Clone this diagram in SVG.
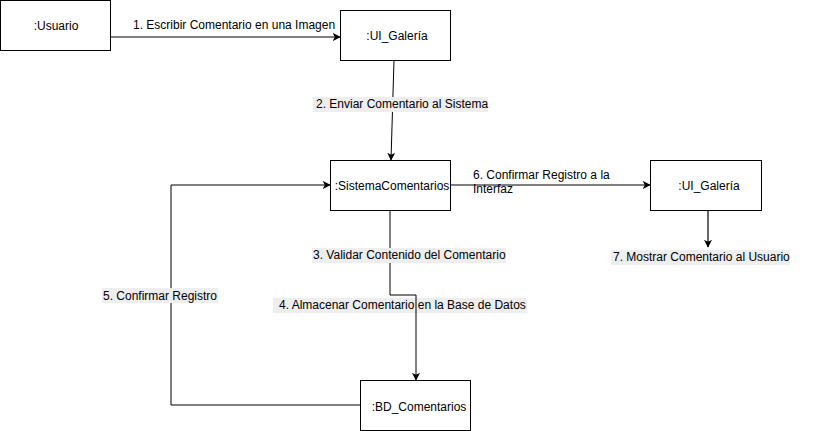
<svg xmlns="http://www.w3.org/2000/svg" width="821" height="431" viewBox="0 0 821 431">
<style>
.box{fill:#fff;stroke:#000;stroke-width:1}
.t{font-family:"Liberation Sans",Arial,sans-serif;font-size:12px;fill:#000}
.c{stroke:#000;stroke-width:1;fill:none}
.lbg{fill:#eeeeee}
</style>
<defs>
<marker id="ah" viewBox="0 0 10 10" refX="9" refY="5" markerWidth="8" markerHeight="8" markerUnits="userSpaceOnUse" orient="auto">
<path d="M0,0 L10,5 L0,10 L2.5,5 Z" fill="#000"/>
</marker>
</defs>
<rect width="821" height="431" fill="#fff"/>
<g id="connectors">
<g id="e1"><line class="c" x1="110" y1="37" x2="340" y2="37" marker-end="url(#ah)"/>
<text class="t" x="133" y="29">1. Escribir Comentario en una Imagen</text></g>
<g id="e2"><line class="c" x1="394" y1="60" x2="391" y2="160" marker-end="url(#ah)"/>
<rect class="lbg" x="313" y="97" width="175" height="15"/>
<text class="t" x="316" y="108">2. Enviar Comentario al Sistema</text></g>
<g id="e34">
<rect class="lbg" x="273" y="298" width="254" height="15"/>
<text class="t" x="279" y="309">4. Almacenar Comentario en la Base de Datos</text>
<polyline class="c" points="390,210 390,295 416,295 416,380" marker-end="url(#ah)"/>
<rect class="lbg" x="312" y="248" width="194" height="15"/>
<text class="t" x="313" y="259">3. Validar Contenido del Comentario</text>
</g>
<g id="e5"><polyline class="c" points="360,405 171,405 171,185 330,185" marker-end="url(#ah)"/>
<rect class="lbg" x="102" y="288" width="116" height="15"/>
<text class="t" x="103" y="300">5. Confirmar Registro</text></g>
<g id="e6"><line class="c" x1="450" y1="185" x2="650" y2="185" marker-end="url(#ah)"/>
<text class="t" x="473" y="179">6. Confirmar Registro a la</text>
<text class="t" x="473" y="193">Interfaz</text></g>
<g id="e7"><line x1="708" y1="210" x2="708" y2="247" stroke="#666" stroke-width="2" marker-end="url(#ah)"/>
<rect class="lbg" x="611" y="250" width="179" height="15"/>
<text class="t" x="613" y="261">7. Mostrar Comentario al Usuario</text></g>
</g>
<g id="usuario"><rect class="box" x="0.5" y="0.5" width="110" height="50"/><text class="t" x="56" y="30" text-anchor="middle">:Usuario</text></g>
<g id="ui_galeria1"><rect class="box" x="340.5" y="10.5" width="110" height="50"/><text class="t" x="397" y="40" text-anchor="middle">:UI_Galería</text></g>
<g id="sistema"><rect class="box" x="330.5" y="160.5" width="120" height="50"/><text class="t" x="392" y="190" text-anchor="middle">:SistemaComentarios</text></g>
<g id="ui_galeria2"><rect class="box" x="650.5" y="160.5" width="111" height="50"/><text class="t" x="709" y="190" text-anchor="middle">:UI_Galería</text></g>
<g id="bd"><rect class="box" x="360.5" y="380.5" width="110" height="50"/><text class="t" x="419" y="411" text-anchor="middle">:BD_Comentarios</text></g>
</svg>
